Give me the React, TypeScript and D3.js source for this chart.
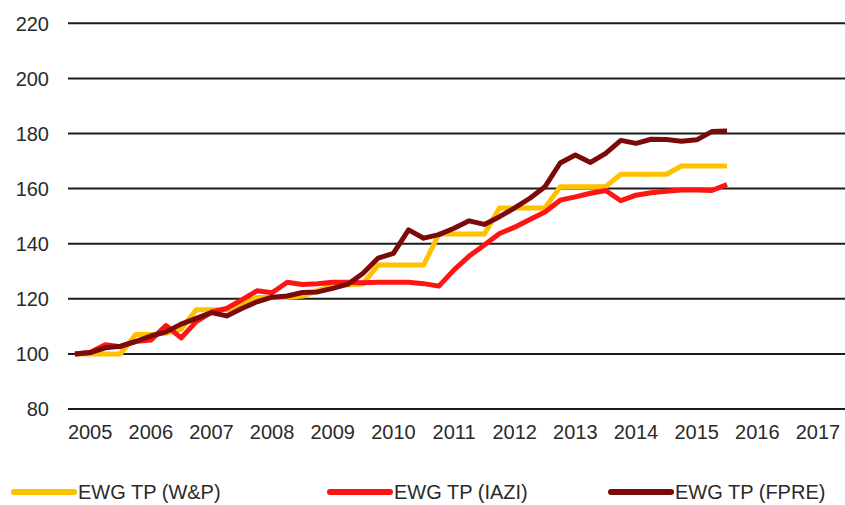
import * as d3 from "d3";
import React, { useEffect, useRef } from "react";

// quarterly index values, 2005Q1 .. 2015Q4
const quarters = d3.range(44).map(i => `${2005 + Math.floor(i / 4)}Q${(i % 4) + 1}`);

const wpValues = [
  100, 100, 100, 100, 107, 107, 107.5, 109,
  116, 116, 116, 118, 120.5, 120.5, 120.5, 121,
  123, 125, 125, 125.5, 132.3, 132.3, 132.3, 132.3,
  143.5, 143.5, 143.5, 143.5, 153, 153, 153, 153,
  160.7, 160.7, 160.7, 160.7, 165.2, 165.2, 165.2, 165.2,
  168.2, 168.2, 168.2, 168.2,
];

const iaziValues = [
  100, 100.5, 103.3, 102.6, 104.5, 105, 110.3, 105.8,
  111.7, 115.2, 116.5, 119.6, 122.9, 122.2, 126, 125.2,
  125.5, 126, 126, 125.8, 126, 126, 126, 125.5,
  124.6, 130.5, 135.5, 139.5, 143.7, 146, 148.8, 151.5,
  155.8, 157, 158.3, 159.3, 155.6, 157.6, 158.5, 159,
  159.5, 159.5, 159.3, 161.5,
];

const fpreValues = [
  100, 100.5, 102.2, 102.8, 104.5, 106.5, 108, 110.8,
  112.9, 115, 113.8, 116.5, 118.9, 120.6, 121, 122.3,
  122.5, 123.8, 125.3, 129.3, 134.8, 136.5, 145, 142,
  143.3, 145.6, 148.3, 147, 149.8, 153, 156.5, 160.7,
  169.3, 172.2, 169.5, 172.8, 177.5, 176.4, 177.9, 177.8,
  177.2, 177.7, 180.7, 180.9,
];

const seriesNames = ["EWG TP (W&P)", "EWG TP (IAZI)", "EWG TP (FPRE)"];
const seriesColors = ["#FFC000", "#FF1414", "#7B0A0A"];
const yearLabels = d3.range(2005, 2018);
const yTicks = [80, 100, 120, 140, 160, 180, 200, 220];

const App = () => {
  const svgRef = useRef<SVGSVGElement>(null);

  useEffect(() => {
    const w = 845;
    const h = 505;
    const font = "'Liberation Sans', Arial, sans-serif";

    const svg = d3.select(svgRef.current).attr("width", w).attr("height", h);
    svg.selectAll("*").remove();

    // time in years, each quarter plotted at its end
    const x = d3.scaleLinear().domain([2005, 2018]).range([59.8, 848.3]);
    const y = d3.scaleLinear().domain([80, 220]).range([409, 23.3]);
    const qTime = (i: number) => 2005 + (i + 1) / 4;

    // grid
    svg.append("g")
      .selectAll("line")
      .data(yTicks)
      .enter()
      .append("line")
      .attr("x1", 68)
      .attr("x2", w)
      .attr("y1", d => y(d))
      .attr("y2", d => y(d))
      .attr("stroke", "#1c1c1c")
      .attr("stroke-width", 2);

    svg.append("g")
      .selectAll("text")
      .data(yTicks)
      .enter()
      .append("text")
      .attr("x", 49)
      .attr("y", d => y(d))
      .attr("dy", "0.36em")
      .attr("text-anchor", "end")
      .attr("font-family", font)
      .attr("font-size", 20)
      .attr("fill", "#2a2a2a")
      .text(d => d);

    svg.append("g")
      .selectAll("text")
      .data(yearLabels)
      .enter()
      .append("text")
      .attr("x", d => x(d + 0.5))
      .attr("y", 439)
      .attr("text-anchor", "middle")
      .attr("font-family", font)
      .attr("font-size", 20)
      .attr("fill", "#2a2a2a")
      .text(d => d);

    // lines
    const line = d3.line<number>()
      .x((_, i) => x(qTime(i)))
      .y(d => y(d));

    const allSeries = [wpValues, iaziValues, fpreValues];
    allSeries.forEach((vals, k) => {
      svg.append("path")
        .datum(vals)
        .attr("d", line)
        .attr("fill", "none")
        .attr("stroke", seriesColors[k])
        .attr("stroke-width", 5)
        .attr("stroke-linejoin", "round");
    });

    // legend
    const legendX = [14, 330, 611];
    const leg = svg.append("g");
    seriesNames.forEach((name, k) => {
      leg.append("line")
        .attr("x1", legendX[k])
        .attr("x2", legendX[k] + 60)
        .attr("y1", 492)
        .attr("y2", 492)
        .attr("stroke", seriesColors[k])
        .attr("stroke-width", 6)
        .attr("stroke-linecap", "round");
      leg.append("text")
        .attr("x", legendX[k] + 64)
        .attr("y", 492)
        .attr("dy", "0.36em")
        .attr("font-family", font)
        .attr("font-size", 20)
        .attr("fill", "#2a2a2a")
        .text(name);
    });
  }, []);

  return (
    <svg ref={svgRef} style={{ position: "absolute", left: 0, top: 0, background: "#fff" }} />
  );
};

export default App;
